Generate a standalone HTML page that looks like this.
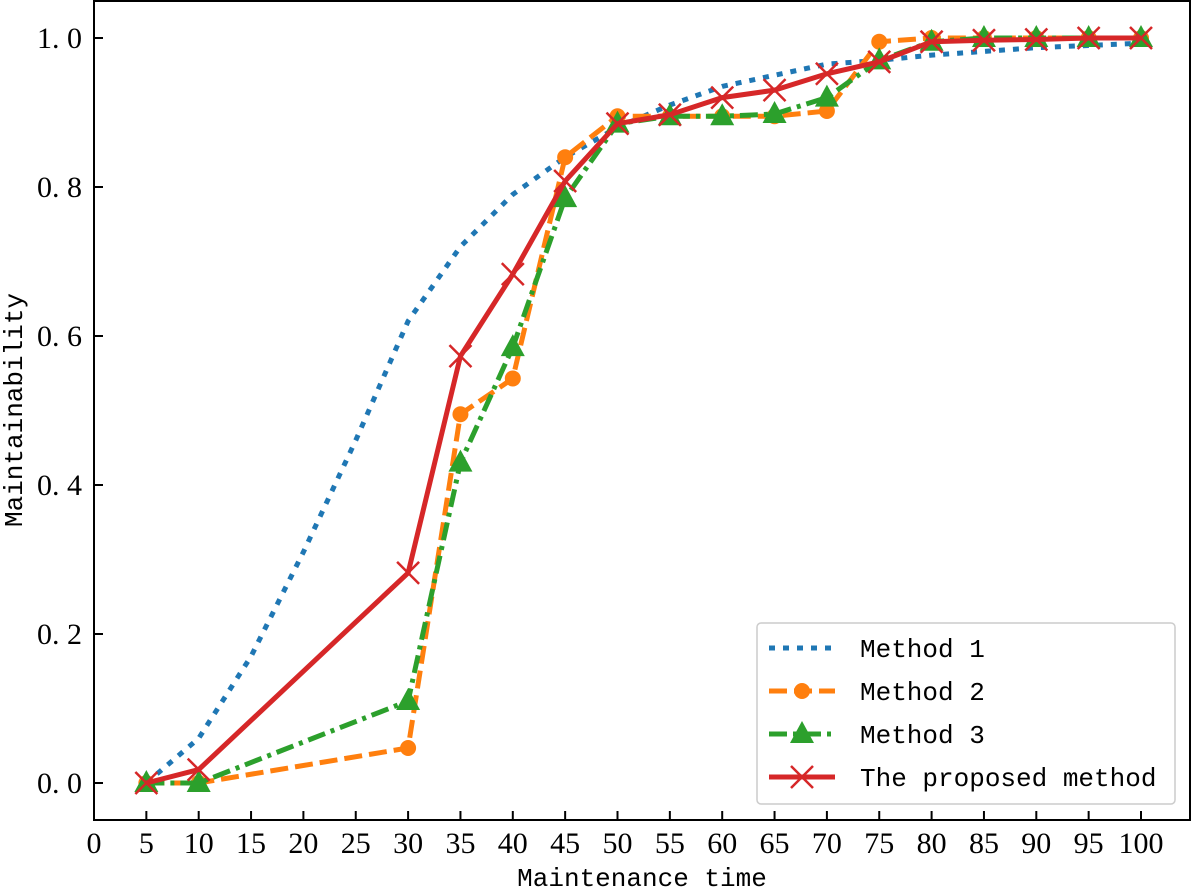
<!DOCTYPE html>
<html><head><meta charset="utf-8"><style>
html,body{margin:0;padding:0;background:#fff}
svg{display:block}
text{font-family:"Liberation Mono","Noto Serif CJK SC",monospace;fill:#000}
text.tick{font-family:"Liberation Serif","Noto Serif CJK SC",serif}
</style></head><body>
<svg id="chart" width="1194" height="889" xmlns="http://www.w3.org/2000/svg"></svg>
<script>
const xTicks=[0,5,10,15,20,25,30,35,40,45,50,55,60,65,70,75,80,85,90,95,100];
const yTicks=[0.0,0.2,0.4,0.6,0.8,1.0];
const m1X=[5,10,15,20,25,30,35,40,45,50,55,60,65,70,75,80,85,90,95,100];
const m1Y=[0,0.06,0.17,0.31,0.46,0.62,0.72,0.79,0.84,0.88,0.91,0.935,0.95,0.965,0.97,0.977,0.982,0.987,0.99,0.993];
const xs=[5,10,30,35,40,45,50,55,60,65,70,75,80,85,90,95,100];
const m2Y=[0,0,0.047,0.495,0.543,0.84,0.895,0.895,0.895,0.895,0.902,0.995,1,1,1,1,1];
const m3Y=[0,0,0.11,0.43,0.585,0.785,0.885,0.895,0.895,0.898,0.92,0.97,0.995,1,1,1,1];
const pY=[0,0.018,0.282,0.573,0.683,0.808,0.885,0.897,0.92,0.93,0.952,0.968,0.995,0.997,0.998,1,1];
const NS="http://www.w3.org/2000/svg";
const svg=document.getElementById('chart');
const X=v=>94+v*10.47, Y=v=>783-v*745;
function el(t,a,p){const e=document.createElementNS(NS,t);for(const k in a)e.setAttribute(k,a[k]);(p||svg).appendChild(e);return e;}
const frame=el('rect',{x:94,y:1,width:1096,height:819,fill:'none',stroke:'#000','stroke-width':2});


xTicks.forEach(v=>{
 const l=el('line',{x1:X(v),x2:X(v),y1:820,y2:811,stroke:'#000','stroke-width':2});
 
 
 const t=el('text',{x:X(v),y:853,'text-anchor':'middle','font-size':30,class:'tick'});t.textContent=v;
 
 
});
yTicks.forEach(v=>{
 const l=el('line',{x1:94,x2:103,y1:Y(v),y2:Y(v),stroke:'#000','stroke-width':2});
 
 
 const t=el('text',{x:82,y:Y(v)+10,'text-anchor':'end','font-size':30,class:'tick','xml:space':'preserve'});t.textContent=v.toFixed(1).replace('.','.\u00a0');
 
 
});
const xt=el('text',{x:642,y:886,'text-anchor':'middle','font-size':26});xt.textContent='Maintenance time';


const yt=el('text',{x:0,y:0,'text-anchor':'middle','font-size':26,transform:'translate(22,410) rotate(-90)'});yt.textContent='Maintainability';


function line(xa,ya,color,dash,name){
 const p=el('polyline',{points:xa.map((x,i)=>X(x)+','+Y(ya[i])).join(' '),fill:'none',stroke:color,'stroke-width':5,'stroke-dasharray':dash});
 
 
}
function marker(type,cx,cy,color,g){
 if(type==='o')el('circle',{cx,cy,r:8,fill:color},g);
 else if(type==='^')el('polygon',{points:`${cx},${cy-13} ${cx-12},${cy+9} ${cx+12},${cy+9}`,fill:color},g);
 else if(type==='x')el('path',{d:`M${cx-11},${cy-11}L${cx+11},${cy+11}M${cx-11},${cy+11}L${cx+11},${cy-11}`,stroke:color,'stroke-width':2.5,fill:'none'},g);
}
function markers(ya,type,color,name){
 const g=el('g',{});
 
 
 xs.forEach((x,i)=>marker(type,X(x),Y(ya[i]),color,g));
}
line(m1X,m1Y,'#1f77b4','6 8','method-1-line');
line(xs,m2Y,'#ff7f0e','18 7','method-2-line');markers(m2Y,'o','#ff7f0e','method-2-markers');
line(xs,m3Y,'#2ca02c','18 6 4 6','method-3-line');markers(m3Y,'^','#2ca02c','method-3-markers');
line(xs,pY,'#d62728','','proposed-line');markers(pY,'x','#d62728','proposed-markers');
const lg=el('g',{});


el('rect',{x:757,y:623,width:418,height:181,rx:4,fill:'#fff',stroke:'#ccc','stroke-width':1.5},lg);
const items=[['Method 1','#1f77b4','6 8',''],['Method 2','#ff7f0e','18 7','o'],['Method 3','#2ca02c','18 6 4 6','^'],['The proposed method','#d62728','','x']];
items.forEach((it,i)=>{
 const yy=648+i*43;
 const g=el('g',{},lg);
 
 
 el('line',{x1:769,x2:835,y1:yy,y2:yy,stroke:it[1],'stroke-width':5,'stroke-dasharray':it[2]},g);
 if(it[3])marker(it[3],802,yy,it[1],g);
 const t=el('text',{x:860,y:yy+9,'font-size':26},g);t.textContent=it[0];
});
</script>
</body></html>
